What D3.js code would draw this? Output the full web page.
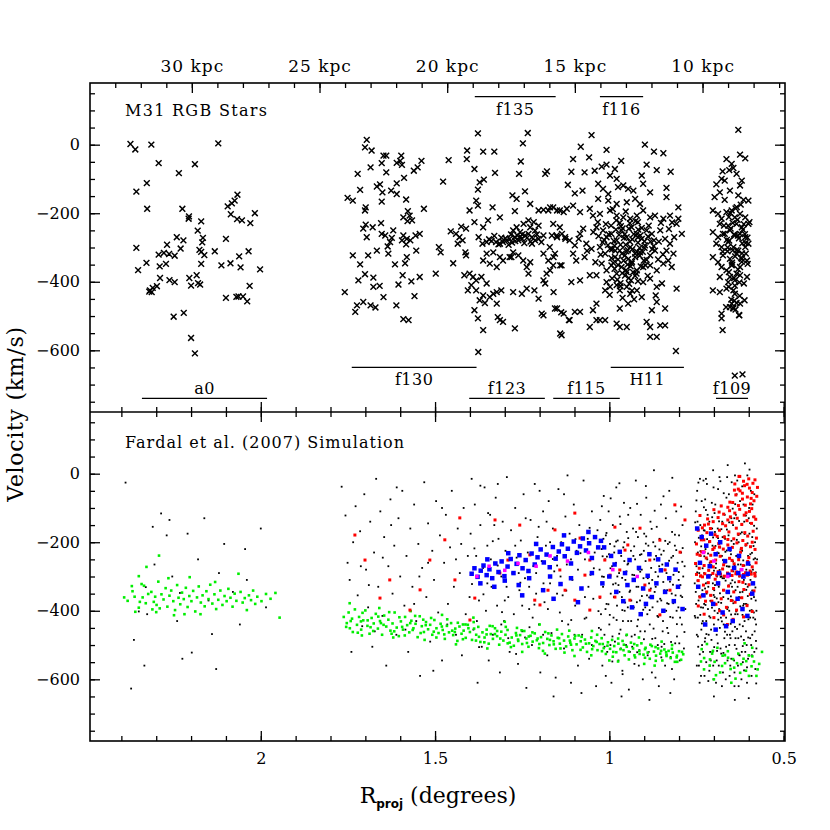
<!DOCTYPE html>
<html>
<head>
<meta charset="utf-8">
<script src="https://cdn.jsdelivr.net/npm/d3@7"></script>
<style>
  body { margin: 0; background: #fff; }
  text { font-family: "DejaVu Serif", serif; fill: #000; }
</style>
</head>
<body>
<div id="chart"></div>
<script>
// ---- M31 RGB stars, [R_proj (deg), velocity (km/s)] ----
var starsA0 = [[2.374,2],[2.360,-14],[2.314,0],[2.122,4],[2.293,-54],[2.189,-57],[2.235,-83],[2.327,-112],[2.357,-137],[2.326,-187],
  [2.225,-187],[2.206,-209],[2.207,-216],[2.171,-224],[2.181,-251],[2.166,-272],[2.168,-285],[2.241,-270],[2.222,-279],[2.269,-292],
  [2.357,-301],[2.230,-303],[2.176,-307],[2.171,-313],[2.162,-322],[2.293,-321],[2.278,-316],[2.263,-319],[2.247,-324],[2.132,-311],
  [2.100,-275],[2.095,-180],[2.083,-171],[2.075,-163],[2.067,-146],[2.086,-203],[2.068,-217],[2.054,-221],[2.030,-229],[2.017,-200],
  [2.035,-311],[2.062,-326],[2.058,-358],[2.087,-346],[2.113,-352],[2.002,-364],[2.171,-348],[2.328,-345],[2.352,-366],[2.290,-355],
  [2.272,-348],[2.289,-389],[2.262,-395],[2.247,-401],[2.205,-389],[2.200,-411],[2.184,-381],[2.180,-404],[2.174,-408],[2.298,-413],
  [2.310,-418],[2.318,-425],[2.313,-430],[2.320,-429],[2.032,-412],[2.100,-447],[2.070,-444],[2.064,-443],[2.051,-443],[2.039,-457],
  [2.250,-502],[2.221,-491],[2.200,-564],[2.189,-609]];

var starsF130 = [[1.696,14],[1.701,-8],[1.682,-17],[1.648,-32],[1.640,-32],[1.597,-32],[1.600,-47],[1.610,-53],[1.595,-59],[1.653,-54],
  [1.685,-66],[1.640,-81],[1.561,-76],[1.550,-66],[1.539,-47],[1.589,-97],[1.610,-113],[1.722,-85],[1.715,-132],[1.667,-122],
  [1.658,-116],[1.651,-139],[1.626,-134],[1.610,-144],[1.583,-160],[1.751,-155],[1.736,-163],[1.653,-166],[1.699,-183],[1.701,-192],
  [1.532,-187],[1.578,-194],[1.591,-212],[1.573,-207],[1.566,-221],[1.579,-223],[1.699,-233],[1.706,-245],[1.679,-241],[1.655,-229],
  [1.653,-260],[1.643,-265],[1.696,-270],[1.620,-250],[1.624,-272],[1.629,-284],[1.591,-265],[1.581,-275],[1.571,-279],[1.595,-279],
  [1.583,-291],[1.556,-265],[1.544,-260],[1.636,-297],[1.634,-318],[1.667,-309],[1.692,-323],[1.736,-323],[1.715,-349],[1.581,-328],
  [1.586,-346],[1.615,-349],[1.554,-309],[1.701,-378],[1.720,-396],[1.677,-388],[1.593,-381],[1.568,-399],[1.544,-386],[1.677,-415],
  [1.659,-412],[1.759,-430],[1.648,-445],[1.605,-408],[1.559,-442],[1.724,-469],[1.729,-488],[1.706,-459],[1.685,-469],[1.671,-475],
  [1.611,-469],[1.591,-509],[1.576,-512]];

var starsMid = [[1.489,-299],[1.484,-314],[1.498,-376],[1.448,-346],[1.455,-253],[1.440,-260],[1.430,-270],[1.421,-279],[1.435,-289],
  [1.413,-314],[1.411,-323],[1.425,-239],[1.411,-245],[1.401,-192],[1.477,-108],[1.461,-45],[1.408,-17],[1.409,-42],[1.377,33],
  [1.362,-20],[1.330,-20],[1.387,-71],[1.328,-82],[1.360,-102],[1.372,-110],[1.377,-131],[1.382,-163],[1.377,-178],[1.335,-183],
  [1.314,-212],[1.387,-226],[1.362,-241],[1.348,-221],
  [1.375,-270],[1.352,-284],[1.338,-281],[1.325,-284],[1.314,-289],[1.305,-284],[1.295,-279],[1.286,-275],[1.271,-270],[1.261,-279],
  [1.251,-275],[1.242,-265],[1.232,-260],[1.222,-270],[1.213,-279],[1.203,-275],[1.189,-265],[1.276,-250],[1.266,-241],[1.256,-255],
  [1.246,-231],[1.232,-221],[1.227,-241],[1.217,-226],[1.203,-236],[1.170,-183],[1.150,-192],[1.131,-197],[1.175,-192],[1.189,-190],
  [1.203,-192],[1.165,-265],[1.150,-270],[1.136,-260],[1.126,-275],[1.278,-148],[1.266,-158],[1.242,-136],[1.271,-194],[1.227,-173],
  [1.352,-318],[1.333,-314],[1.314,-328],[1.362,-338],[1.343,-347],[1.323,-357],[1.305,-338],[1.286,-328],[1.276,-314],[1.281,-328],
  [1.261,-323],[1.247,-338],[1.237,-357],[1.227,-343],[1.232,-376],[1.189,-318],[1.175,-338],[1.160,-328],[1.141,-352],[1.170,-367],
  [1.180,-376],[1.189,-396],[1.416,-381],[1.401,-376],[1.391,-386],[1.382,-396],[1.367,-386],[1.352,-405],[1.396,-410],[1.406,-425],
  [1.382,-425],[1.362,-440],[1.372,-454],[1.357,-462],[1.333,-435],[1.323,-430],[1.310,-425],[1.343,-445],[1.387,-483],[1.377,-507],
  [1.362,-541],[1.323,-464],[1.320,-503],[1.314,-512],[1.305,-517],[1.271,-536],[1.276,-430],[1.251,-435],[1.237,-420],[1.215,-425],
  [1.203,-449],[1.184,-405],[1.160,-430],[1.194,-493],[1.189,-498],[1.141,-551],[1.150,-478],[1.131,-493],[1.116,-512],[1.234,34],
  [1.248,4],[1.254,-49],[1.259,-85],[1.179,-78],[1.184,-85],[1.376,-605],
  [1.345,-276],[1.318,-291],[1.298,-273],[1.279,-286],[1.264,-265],[1.244,-287],[1.226,-283],[1.208,-262],[1.195,-284],[1.282,-262],
  [1.255,-268],[1.236,-272],[1.310,-271],[1.289,-292],[1.270,-281],[1.250,-262],[1.222,-289],[1.213,-251],[1.330,-266],[1.364,-289]];

var starsH11 = [[1.051,28],[1.082,-6],[1.008,-15],[0.898,0],[0.872,-20],[0.845,-25],[1.104,-42],[1.058,-37],[0.966,-47],[1.109,-79],
  [1.071,-81],[1.042,-76],[1.022,-64],[1.008,-58],[0.984,-71],[0.893,-58],[0.864,-74],[0.824,-79],[0.998,-90],[0.979,-100],[0.907,-90],
  [1.119,-117],[1.099,-142],[1.077,-134],[1.032,-114],[1.018,-129],[1.003,-144],[0.975,-124],[0.960,-119],[0.946,-129],[0.931,-134],
  [0.903,-114],[0.883,-139],[0.836,-126],[0.836,-153],[1.032,-158],[1.003,-163],[0.979,-173],[0.950,-168],[0.926,-158],[0.912,-173],
  [1.161,-183],[1.142,-192],[1.122,-187],[1.104,-178],[1.084,-197],[1.056,-187],[1.047,-207],[1.027,-202],[0.998,-192],[0.979,-207],
  [0.960,-212],[0.940,-216],[0.921,-207],[0.903,-192],[0.883,-212],[0.869,-207],[0.845,-216],[0.826,-207],[0.802,-183],[0.802,-216],
  [1.161,-231],[1.142,-241],[1.151,-265],[1.127,-270],[1.114,-279],[1.099,-294],[1.084,-260],[1.075,-245],[1.171,-299],[1.156,-318],
  [1.161,-352],[1.137,-352],[1.104,-318],[1.095,-338],[1.071,-328],[1.066,-289],[1.051,-304],[1.037,-241],[1.018,-250],[1.008,-270],
  [0.994,-260],[0.979,-279],[0.965,-250],[0.950,-270],[0.936,-241],[0.921,-260],[0.907,-275],[0.893,-250],[0.878,-260],[1.027,-299],
  [1.012,-318],[0.998,-304],[0.984,-328],[0.970,-309],[0.955,-323],[0.940,-299],[0.926,-328],[0.912,-314],[0.898,-294],[0.883,-323],
  [0.869,-309],[1.022,-347],[1.008,-367],[0.994,-352],[0.979,-376],[0.965,-357],[0.950,-372],[0.936,-347],[0.921,-367],[0.903,-357],
  [0.883,-352],[0.864,-367],[0.845,-347],[0.854,-250],[0.840,-275],[0.826,-289],[0.836,-309],[0.816,-318],[0.831,-338],[0.821,-357],
  [0.820,-227],[0.807,-231],[0.792,-260],[1.037,-381],[1.008,-401],[0.998,-415],[0.979,-410],[0.970,-425],[0.950,-415],[0.940,-435],
  [0.921,-425],[1.109,-401],[1.084,-396],[1.056,-381],[0.903,-401],[0.883,-391],[0.864,-415],[0.849,-405],[1.156,-478],[1.138,-489],
  [1.114,-512],[1.099,-488],[1.084,-488],[1.037,-464],[1.047,-483],[1.056,-532],[1.037,-512],[1.027,-512],[1.012,-512],[0.979,-522],
  [0.970,-532],[0.950,-532],[0.970,-478],[0.946,-464],[0.893,-517],[0.883,-532],[0.883,-561],[0.864,-561],[0.854,-527],[0.840,-527],
  [0.878,-483],[0.864,-459],[0.840,-478],[0.807,-420],[1.137,-556],[0.809,-602],
  [0.995,-236],[0.962,-244],[0.941,-229],[0.918,-286],[0.987,-281],[0.953,-292],[0.930,-261],[0.972,-263],[0.947,-308],[0.913,-301],
  [0.994,-331],[0.959,-338],[0.935,-342],[0.901,-338],[0.977,-394],[0.944,-389],[0.918,-398],[0.968,-404],[0.932,-372],[0.985,-362],
  [1.015,-278],[1.004,-293],[0.926,-318],[0.958,-272],[0.981,-248],[0.907,-243],[0.889,-268],[0.899,-282],[0.964,-318],[0.948,-350],
  [0.910,-355],[0.992,-390],[0.955,-382],[0.938,-396],[0.970,-228],[0.925,-223],[1.010,-232],[0.983,-309],[0.941,-283],[0.913,-324],
  [0.877,-305],[0.893,-336],[0.962,-447],[0.929,-451],[0.999,-438],[0.975,-351],[0.952,-366],[0.922,-376],[0.890,-383],[1.025,-321],
  [1.040,-343],[1.031,-267],[0.872,-279],[0.860,-335],[0.934,-305],[0.968,-292],[0.989,-345],[0.946,-334],[0.918,-270],[0.904,-313],
  [1.002,-262],[0.985,-295],[0.967,-238],[0.951,-311],[0.934,-276],[0.917,-248],[0.899,-301],[0.882,-283],[0.956,-262],[0.939,-355],
  [0.921,-312],[0.975,-335],[0.992,-305],[0.944,-245],[0.911,-265],[0.926,-383],[0.963,-375],[0.896,-352],[0.980,-221],[0.943,-406],
  [1.019,-285],[1.033,-226],[1.046,-255],[1.064,-310],[1.088,-275],[0.873,-296],[0.858,-283],[0.846,-320],[0.829,-246],[0.814,-270],
  [0.990,-188],[0.953,-195],[0.918,-226],[0.887,-236],[0.968,-413],[0.935,-426],[0.907,-445],[1.012,-425],[0.867,-440],[0.852,-228]];

var starsF109 = [[0.630,43],[0.625,-29],[0.610,-40],[0.664,-42],[0.649,-56],[0.644,-68],[0.656,-74],[0.675,-78],[0.678,-100],[0.693,-116],
  [0.669,-105],[0.635,-85],[0.620,-105],[0.625,-119],[0.683,-139],[0.698,-153],[0.654,-134],[0.630,-148],[0.615,-161],[0.601,-163],
  [0.669,-161],[0.703,-192],[0.688,-202],[0.678,-216],[0.664,-197],[0.649,-192],[0.640,-212],[0.625,-202],[0.610,-212],[0.601,-231],
  [0.683,-231],[0.659,-236],[0.635,-231],[0.620,-241],[0.703,-255],[0.688,-270],[0.674,-260],[0.654,-250],[0.640,-265],[0.625,-260],
  [0.610,-270],[0.601,-289],[0.693,-289],[0.678,-299],[0.659,-284],[0.644,-299],[0.630,-309],[0.610,-299],[0.703,-328],[0.688,-343],
  [0.674,-323],[0.654,-333],[0.635,-318],[0.620,-333],[0.605,-338],[0.678,-357],[0.664,-367],[0.649,-352],[0.635,-376],[0.625,-357],
  [0.654,-386],[0.683,-386],[0.640,-396],[0.625,-381],[0.605,-386],[0.703,-425],[0.683,-430],[0.664,-420],[0.644,-425],[0.640,-435],
  [0.659,-401],[0.654,-474],[0.644,-478],[0.649,-464],[0.635,-462],[0.625,-464],[0.627,-498],[0.678,-493],[0.678,-507],[0.675,-541],
  [0.640,-674],[0.618,-670],
  [0.652,-245],[0.628,-273],[0.617,-248],[0.642,-262],[0.609,-287],[0.635,-308],[0.661,-311],[0.622,-330],[0.648,-344],[0.603,-348],
  [0.631,-364],[0.657,-372],[0.614,-405],[0.640,-411],[0.626,-441],[0.650,-452],[0.612,-454],[0.638,-186],[0.623,-175],[0.657,-211],
  [0.598,-226],[0.671,-236],[0.646,-228],[0.632,-219],[0.611,-261],[0.656,-280],[0.619,-317],[0.642,-389],[0.665,-474],[0.628,-497],
  [0.638,-481],[0.645,-476],
  [0.6605,-300],[0.6391,-326],[0.6187,-288],[0.6523,-200],[0.6312,-265],[0.6472,-350],[0.6268,-402],[0.6083,-318],[0.6688,-260],
  [0.6345,-182],[0.6141,-232],[0.6573,-415],[0.6413,-455],[0.6201,-342],[0.6748,-312],[0.6037,-271],[0.6629,-278],[0.6459,-308]];

// ---- Fardal et al. (2007) simulation particles ----
var simBlack = [[2.388,-26],[2.372,-627],[2.364,-485],[2.350,-402],[2.334,-560],[2.326,-410],[2.310,-155],[2.286,-116],[2.262,-135],
  [2.254,-300],[2.240,-430],[2.225,-540],[2.210,-175],[2.198,-522],[2.180,-250],[2.162,-130],[2.150,-370],[2.140,-468],[2.120,-290],
  [2.105,-205],[2.080,-345],[2.060,-440],[2.040,-310],[2.000,-160],[1.985,-390],[2.270,-180],[2.232,-348],[2.305,-265],[2.330,-331],
  [2.045,-220],[2.128,-570],
  [1.768,-38],[1.757,-122],[1.751,-260],[1.745,-310],[1.740,-520],[1.735,-200],[1.728,-95],[1.722,-355],[1.715,-168],[1.709,-445],
  [1.703,-60],[1.698,-280],[1.692,-390],[1.686,-140],[1.680,-505],[1.675,-230],[1.669,-15],[1.663,-330],[1.657,-110],[1.651,-415],
  [1.646,-185],[1.640,-560],[1.634,-270],[1.628,-75],[1.622,-350],[1.617,-210],[1.611,-470],[1.605,-130],[1.600,-300],[1.594,-50],
  [1.588,-385],[1.582,-240],[1.577,-520],[1.571,-160],[1.565,-330],[1.560,-90],[1.554,-430],[1.548,-205],[1.543,-590],[1.537,-275],
  [1.531,-25],[1.525,-360],[1.520,-145],[1.514,-490],[1.508,-225],[1.503,-310],[1.497,-80],[1.491,-405],[1.486,-180],[1.480,-545],
  [1.474,-260],[1.469,-120],[1.463,-380],[1.457,-215],[1.452,-50],[1.446,-330],[1.440,-470],[1.435,-160],[1.429,-290],[1.423,-530],
  [1.418,-100],[1.412,-410],[1.406,-240],[1.401,-360],[1.395,-15],[1.713,-270],[1.673,-460],[1.626,-150],[1.585,-455],[1.545,-300],
  [1.505,-575],[1.465,-440],[1.425,-205],[1.690,-325],[1.650,-245],[1.610,-40],[1.560,-380],[1.520,-260],[1.480,-100],[1.440,-250],
  [1.398,-175],[1.394,-322],[1.390,-455],[1.386,-90],[1.382,-240],[1.378,-610],[1.374,-370],[1.370,-150],[1.366,-505],[1.362,-275],
  [1.358,-40],[1.354,-400],[1.350,-210],[1.346,-545],[1.342,-120],[1.338,-330],[1.334,-470],[1.330,-260],[1.326,-70],[1.322,-385],
  [1.318,-190],[1.314,-580],[1.310,-300],[1.306,-140],[1.302,-430],[1.298,-225],[1.294,-10],[1.290,-360],[1.286,-520],[1.282,-165],
  [1.278,-290],[1.274,-410],[1.270,-100],[1.266,-245],[1.262,-555],[1.258,-340],[1.254,-195],[1.250,-460],[1.246,-60],[1.242,-305],
  [1.238,-625],[1.234,-230],[1.230,-395],[1.226,-135],[1.222,-500],[1.218,-270],[1.214,-30],[1.210,-350],[1.206,-185],[1.202,-440],
  [1.198,-580],[1.194,-255],[1.190,-110],[1.186,-375],[1.182,-210],[1.178,-530],[1.174,-80],[1.170,-320],[1.166,-465],[1.162,-160],
  [1.158,-285],[1.154,-595],[1.150,-240],[1.146,-45],[1.142,-405],[1.138,-200],[1.134,-355],[1.130,-510],[1.126,-125],[1.122,-265],
  [1.118,-440],[1.114,-175],[1.110,-610],[1.106,-310],[1.102,-90],[1.098,-385],[1.094,-225],[1.090,-560],[1.086,-150],[1.082,-335],
  [1.078,-470],[1.074,-20],[1.070,-250],[1.066,-420],[1.062,-190],[1.058,-540],[1.054,-295],[1.050,-110],[1.046,-365],[1.042,-230],
  [1.038,-620],[1.034,-165],[1.030,-450],[1.370,-35],[1.330,-150],[1.290,-480],[1.250,-385],[1.210,-290],[1.170,-200],[1.130,-60],
  [1.090,-280],[1.050,-500],[1.350,-320],[1.310,-440],[1.270,-210],[1.230,-330],[1.190,-470],[1.150,-350],[1.110,-250],[1.070,-360],
  [1.380,-430],[1.340,-250],[1.300,-370],[1.260,-290],[1.220,-420],[1.180,-140],[1.140,-300],[1.100,-470],[1.060,-330],[1.160,-650],
  [1.080,-640],[1.320,-30],[1.240,-130],[1.120,-5],[1.200,-50],
  [1.3871,-218],[1.3612,-352],[1.3344,-197],[1.3079,-404],[1.2816,-247],[1.2553,-318],[1.2291,-448],[1.2027,-155],[1.1763,-395],
  [1.1498,-268],[1.1235,-341],[1.0972,-191],[1.0708,-423],[1.0445,-276],[1.3737,-506],[1.3203,-268],[1.2675,-526],[1.2149,-382],
  [1.1621,-249],[1.1093,-427],[1.0565,-158],[1.3478,-115],[1.2948,-330],[1.2417,-478],[1.1889,-320],[1.1357,-430],[1.0829,-232],[1.0312,-401],
  [1.028,-280],[1.026,-135],[1.024,-410],[1.022,-220],[1.020,-560],[1.018,-330],[1.016,-65],[1.014,-470],[1.012,-250],[1.010,-180],
  [1.008,-380],[1.006,-520],[1.004,-300],[1.002,-110],[1.000,-440],[0.998,-205],[0.996,-350],[0.994,-610],[0.992,-270],[0.990,-150],
  [0.988,-420],[0.986,-230],[0.984,-490],[0.982,-320],[0.980,-40],[0.978,-385],[0.976,-195],[0.974,-545],[0.972,-290],[0.970,-125],
  [0.968,-455],[0.966,-240],[0.964,-360],[0.962,-585],[0.960,-215],[0.958,-85],[0.956,-400],[0.954,-310],[0.952,-500],[0.950,-170],
  [0.948,-265],[0.946,-430],[0.944,-630],[0.942,-345],[0.940,-100],[0.938,-225],[0.936,-475],[0.934,-295],[0.932,-160],[0.930,-390],
  [0.928,-555],[0.926,-250],[0.924,-20],[0.922,-330],[0.920,-445],[0.918,-185],[0.916,-280],[0.914,-515],[0.912,-370],[0.910,-120],
  [0.908,-235],[0.906,-410],[0.904,-600],[0.902,-305],[0.900,-175],[0.898,-460],[0.896,-255],[0.894,-70],[0.892,-355],[0.890,-530],
  [0.888,-210],[0.886,-320],[0.884,-440],[0.882,-140],[0.880,-275],[0.878,-580],[0.876,-390],[0.874,-200],[0.872,10],[0.870,-345],
  [0.868,-480],[0.866,-240],[0.864,-155],[0.862,-415],[0.860,-300],[0.858,-620],[0.856,-190],[0.854,-365],[0.852,-90],[0.850,-505],
  [0.848,-265],[0.846,-430],[0.844,-225],[0.842,-340],[0.840,-560],[0.838,-130],[0.836,-290],[0.834,-450],[0.832,-205],[0.830,-380],
  [0.828,-50],[0.826,-315],[0.824,-535],[0.822,-245],[0.820,-170],[0.818,-420],[0.816,-295],[0.814,-600],[0.812,-210],[0.810,-355],
  [0.808,-110],[0.806,-475],[0.804,-260],[0.802,-390],[0.800,-180],[0.798,-545],[0.796,-325],[0.794,-230],[0.792,-440],[0.790,-150],
  [0.788,-300],[0.786,-510],[0.784,-270],[0.782,-395],
  [1.021,-300],[1.011,-395],[1.001,-235],[0.991,-475],[0.981,-260],[0.971,-345],[0.961,-430],[0.951,-285],[0.941,-520],[0.931,-240],
  [0.921,-375],[0.911,-460],[0.901,-225],[0.891,-410],[0.881,-335],[0.871,-250],[0.861,-500],[0.851,-370],[0.841,-280],[0.831,-465],
  [0.821,-350],[0.811,-495],[0.801,-310],[0.791,-360],[1.017,-190],[0.997,-500],[0.977,-300],[0.957,-200],[0.937,-370],[0.917,-330],
  [0.897,-390],[0.877,-310],[0.857,-270],[0.837,-400],[0.817,-240],[0.797,-420],[0.927,-470],[0.907,-280],[0.887,-520],[0.867,-330],
  [0.847,-460],[0.827,-200],[0.807,-400],[0.987,-360],[0.967,-510],[0.947,-390],[0.965,-650],[0.885,-660],[0.825,-640],
  [1.0271,-362],[1.0193,-241],[1.0137,-505],[1.0082,-173],[1.0026,-381],[0.9968,-276],[0.9914,-548],[0.9853,-212],[0.9791,-427],
  [0.9738,-325],[0.9681,-147],[0.9627,-398],[0.9569,-255],[0.9513,-472],[0.9458,-188],[0.9402,-341],[0.9344,-505],[0.9289,-296],
  [0.9233,-170],[0.9177,-426],[0.9121,-237],[0.9066,-357],[0.9008,-483],[0.8953,-204],[0.8897,-305],[0.8842,-398],[0.8786,-161],
  [0.8731,-452],[0.8675,-287],[0.8619,-373],[0.8563,-221],[0.8508,-536],[0.8452,-316],[0.8396,-196],[0.8341,-378],[0.8285,-254],
  [0.8229,-491],[0.8174,-324],[0.8118,-178],[0.8062,-439],[0.8007,-287],[0.7951,-356],[0.7896,-217],[0.7845,-462],
  [1.0244,-455],[1.0158,-301],[1.0069,-242],[0.9987,-412],[0.9892,-323],[0.9806,-198],[0.9717,-467],[0.9632,-304],[0.9546,-376],
  [0.9459,-262],[0.9373,-430],[0.9287,-212],[0.9201,-521],[0.9114,-286],[0.9028,-397],[0.8942,-183],[0.8856,-361],[0.8769,-482],
  [0.8683,-212],[0.8597,-418],[0.8511,-236],[0.8424,-497],[0.8338,-340],[0.8252,-418],[0.8166,-378],[0.8079,-223],[0.7993,-495],[0.7907,-257],
  [1.0215,-95],[0.9962,-72],[0.9711,-28],[0.9458,-120],[0.9205,-88],[0.8952,-36],[0.8699,-108],[0.8446,-66],[0.8193,-12],[0.7940,-96],
  [1.0102,-590],[0.9625,-575],[0.9154,-560],[0.8677,-595],[0.8203,-570],
  [0.755,-320],[0.752,-110],[0.749,-470],[0.746,-230],[0.743,-560],[0.740,-15],[0.737,-390],[0.734,-180],[0.731,-520],[0.728,-290],
  [0.725,-75],[0.722,-430],[0.719,-250],[0.716,-605],[0.713,-140],[0.710,-355],[0.707,-485],[0.704,-210],[0.701,-40],[0.698,-400],
  [0.695,-275],[0.692,-545],[0.689,-160],[0.686,-330],[0.683,-450],[0.680,-95],[0.677,-240],[0.674,-580],[0.671,-305],[0.668,-190],
  [0.665,-420],[0.662,-10],[0.659,-365],[0.656,-500],[0.653,-225],[0.650,-130],[0.647,-460],[0.644,-285],[0.641,-620],[0.638,-340],
  [0.635,-60],[0.632,-410],[0.629,-200],[0.626,-530],[0.623,-265],[0.620,-150],[0.617,-445],[0.614,-310],[0.611,30],[0.608,-380],
  [0.605,-565],[0.602,-240],[0.599,-100],[0.596,-480],[0.593,-350],[0.590,-185],[0.587,-420],[0.584,-60],[0.581,-300],[0.578,-510],
  [0.754,-200],[0.751,-380],[0.748,-50],[0.745,-505],[0.742,-290],[0.739,-150],[0.736,-455],[0.733,-340],[0.730,-20],[0.727,-590],
  [0.724,-220],[0.721,-350],[0.718,-120],[0.715,-470],[0.712,-260],[0.709,-545],[0.706,-85],[0.703,-320],[0.700,-440],[0.697,-170],
  [0.694,-610],[0.691,-300],[0.688,-45],[0.685,-395],[0.682,-215],[0.679,-525],[0.676,-140],[0.673,-360],[0.670,-480],[0.667,-255],
  [0.664,-70],[0.661,-440],[0.658,-180],[0.655,-590],[0.652,-320],[0.649,-25],[0.646,-370],[0.643,-205],[0.640,-500],[0.637,-120],
  [0.634,-290],[0.631,-560],[0.628,-360],[0.625,-80],[0.622,-475],[0.619,-225],[0.616,-385],[0.613,-140],[0.610,-520],[0.607,-280],
  [0.604,-5],[0.601,-425],[0.598,-175],[0.595,-310],[0.592,-590],[0.589,-90],[0.586,-250],[0.583,-460],[0.580,-370],[0.577,-160],
  [0.753,-420],[0.750,-270],[0.747,-140],[0.744,-370],[0.741,-610],[0.738,-240],[0.735,-80],[0.732,-430],[0.729,-165],[0.726,-490],
  [0.723,-320],[0.720,-30],[0.717,-395],[0.714,-200],[0.711,-520],[0.708,-295],[0.705,-160],[0.702,-560],[0.699,-340],[0.696,-90],
  [0.693,-455],[0.690,-230],[0.687,-375],[0.684,-10],[0.681,-510],[0.678,-300],[0.675,-185],[0.672,-440],[0.669,-120],[0.666,-600],
  [0.663,-270],[0.660,-390],[0.657,-60],[0.654,-470],[0.651,-235],[0.648,-330],[0.645,-150],[0.642,-545],[0.639,-410],[0.636,-240],
  [0.633,-20],[0.630,-480],[0.627,-300],[0.624,-175],[0.621,-600],[0.618,-345],[0.615,-90],[0.612,-430],[0.609,-210],[0.606,-500],
  [0.603,-330],[0.600,-130],[0.597,-400],[0.594,-50],[0.591,-530],[0.588,-280],[0.585,-360],[0.582,-200],[0.579,-440],[0.576,-250],
  [0.752,-345],[0.746,-420],[0.740,-300],[0.734,-500],[0.728,-380],[0.722,-550],[0.716,-330],[0.710,-420],[0.704,-520],[0.698,-360],
  [0.692,-470],[0.686,-560],[0.680,-420],[0.674,-340],[0.668,-530],[0.662,-470],[0.656,-400],[0.650,-540],[0.644,-430],[0.638,-480],
  [0.632,-330],[0.626,-440],[0.620,-520],[0.614,-380],[0.608,-460],[0.602,-540],[0.596,-420],[0.590,-470],[0.584,-520],[0.578,-400],
  [0.749,-560],[0.737,-590],[0.725,-480],[0.713,-575],[0.701,-600],[0.689,-495],[0.677,-620],[0.665,-505],[0.653,-560],[0.641,-580],
  [0.629,-620],[0.617,-550],[0.605,-610],[0.593,-500],[0.581,-570],[0.700,-650],[0.640,-660],[0.600,-655],
  [0.7512,-263],[0.7433,-187],[0.7391,-412],[0.7324,-276],[0.7287,-98],[0.7215,-468],[0.7168,-233],[0.7102,-371],[0.7049,-127],
  [0.6991,-506],[0.6937,-262],[0.6881,-188],[0.6826,-349],[0.6772,-431],[0.6718,-57],[0.6664,-312],[0.6609,-545],[0.6553,-271],
  [0.6497,-196],[0.6442,-378],[0.6389,-89],[0.6335,-453],[0.6281,-247],[0.6226,-362],[0.6172,-503],[0.6118,-176],[0.6063,-291],
  [0.6009,-418],[0.5955,-235],[0.5901,-341],[0.5847,-152],[0.5793,-488],
  [0.7548,-415],[0.7469,-312],[0.7405,-527],[0.7353,-354],[0.7276,-241],[0.7229,-106],[0.7144,-282],[0.7081,-455],[0.7023,-186],
  [0.6968,-325],[0.6909,-517],[0.6852,-139],[0.6791,-377],[0.6739,-252],[0.6683,-461],[0.6627,-163],[0.6571,-326],[0.6518,-438],
  [0.6461,-102],[0.6407,-267],[0.6352,-511],[0.6298,-179],[0.6243,-387],[0.6189,-303],[0.6134,-574],[0.6081,-122],[0.6027,-357],
  [0.5972,-266],[0.5918,-398],[0.5864,-211],[0.5809,-332],[0.5786,-612],
  [0.7537,-142],[0.7458,-475],[0.7387,-226],[0.7311,-391],[0.7253,-335],[0.7195,-191],[0.7133,-416],[0.7066,-268],[0.7007,-354],
  [0.6955,-211],[0.6893,-407],[0.6837,-281],[0.6785,-162],[0.6727,-523],[0.6671,-228],[0.6615,-395],[0.6563,-142],[0.6506,-411],
  [0.6451,-256],[0.6396,-317],[0.6342,-193],[0.6287,-528],[0.6233,-221],[0.6179,-412],[0.6125,-268],[0.6071,-339],[0.6016,-478],
  [0.5962,-144],[0.5908,-231],[0.5853,-405],[0.5799,-288],
  [0.7501,-78],[0.7422,-358],[0.7345,-437],[0.7266,-166],[0.7183,-318],[0.7117,-560],[0.7055,-391],[0.6981,-115],[0.6918,-364],
  [0.6863,-232],[0.6808,-301],[0.6744,-408],[0.6695,-183],[0.6637,-347],[0.6582,-271],[0.6523,-480],[0.6472,-311],[0.6415,-130],
  [0.6361,-402],[0.6306,-265],[0.6252,-346],[0.6198,-171],[0.6143,-485],[0.6089,-322],[0.6035,-203],[0.5981,-531],[0.5926,-365],
  [0.5872,-126],[0.5818,-247],
  [0.7479,-288],[0.7364,-212],[0.7241,-383],[0.7125,-197],[0.6998,-283],[0.6874,-426],[0.6752,-305],[0.6631,-224],[0.6512,-358],
  [0.6395,-447],[0.6277,-138],[0.6158,-253],[0.6039,-382],[0.5922,-287],[0.5817,-425],[0.7445,-26],[0.7229,-15],[0.7022,10],
  [0.6814,-22],[0.6604,25],[0.6395,-5],[0.6188,-37],[0.5978,12]];

var simGreen = [[2.392,-361],[2.382,-371],[2.370,-328],[2.368,-343],[2.362,-359],[2.360,-403],[2.350,-299],[2.347,-374],[2.342,-322],
  [2.339,-361],[2.335,-327],[2.330,-378],[2.328,-272],[2.323,-351],[2.314,-345],[2.311,-396],[2.307,-374],[2.303,-359],[2.299,-383],
  [2.294,-315],[2.292,-239],[2.290,-393],[2.285,-352],[2.279,-367],[2.273,-334],[2.268,-388],[2.262,-356],[2.257,-341],[2.251,-372],
  [2.246,-398],[2.240,-325],[2.236,-362],[2.231,-381],[2.226,-347],[2.221,-366],[2.215,-333],[2.210,-389],[2.205,-357],[2.199,-372],
  [2.194,-342],[2.188,-402],[2.183,-361],[2.178,-329],[2.172,-376],[2.167,-355],[2.161,-387],[2.156,-343],[2.150,-366],[2.145,-324],
  [2.139,-379],[2.133,-352],[2.128,-395],[2.122,-368],[2.116,-341],[2.110,-383],[2.104,-357],[2.098,-372],[2.093,-336],[2.087,-362],
  [2.081,-388],[2.075,-350],[2.070,-371],[2.064,-292],[2.058,-345],[2.052,-376],[2.046,-363],[2.040,-398],[2.034,-355],[2.028,-369],
  [2.022,-341],[2.016,-380],[2.010,-359],[1.998,-372],[1.985,-351],[1.972,-365],[1.958,-348],[1.946,-420],[2.265,-305],[2.219,-410],
  [2.173,-410],[2.131,-316],[2.249,-413],[2.204,-302],[2.300,-404],[2.350,-391],
  [1.762,-418],[1.755,-447],[1.748,-405],[1.742,-430],[1.736,-462],[1.730,-396],[1.724,-441],[1.718,-418],[1.712,-455],[1.706,-428],
  [1.700,-399],[1.694,-444],[1.688,-467],[1.682,-421],[1.676,-437],[1.670,-409],[1.664,-452],[1.658,-430],[1.652,-470],[1.646,-414],
  [1.640,-446],[1.634,-426],[1.628,-458],[1.622,-437],[1.616,-405],[1.610,-449],[1.604,-474],[1.598,-431],[1.592,-455],[1.586,-418],
  [1.580,-442],[1.574,-463],[1.568,-429],[1.562,-451],[1.556,-438],[1.550,-477],[1.544,-416],[1.538,-445],[1.532,-462],[1.526,-433],
  [1.520,-454],[1.514,-441],[1.508,-470],[1.502,-427],[1.496,-451],[1.490,-465],[1.484,-438],[1.478,-456],[1.472,-482],[1.466,-444],
  [1.460,-463],[1.454,-436],[1.448,-471],[1.442,-452],[1.436,-488],[1.430,-446],[1.424,-467],[1.418,-458],[1.412,-479],[1.406,-441],
  [1.400,-462],[1.394,-485],[1.388,-452],[1.382,-470],[1.376,-447],[1.370,-491],[1.364,-463],[1.358,-478],[1.352,-455],[1.346,-496],
  [1.340,-468],[1.334,-482],[1.328,-451],[1.322,-474],[1.316,-499],[1.310,-461],[1.304,-487],[1.298,-470],[1.292,-456],[1.286,-493],
  [1.280,-478],[1.274,-502],[1.268,-465],[1.262,-484],[1.256,-471],[1.250,-497],[1.244,-459],[1.238,-481],[1.232,-505],[1.226,-473],
  [1.220,-490],[1.214,-466],[1.208,-486],[1.202,-509],[1.196,-477],[1.190,-494],[1.184,-462],[1.178,-482],[1.172,-500],[1.166,-472],
  [1.160,-489],[1.154,-511],[1.148,-479],[1.142,-496],[1.136,-468],[1.130,-487],[1.124,-504],[1.118,-475],[1.112,-493],[1.106,-515],
  [1.100,-481],[1.094,-498],[1.088,-472],[1.082,-489],[1.076,-507],[1.070,-484],[1.064,-520],[1.058,-495],[1.052,-478],[1.046,-503],
  [1.040,-488],[1.034,-515],[1.028,-497],[1.022,-480],[1.016,-509],[1.010,-526],[1.004,-492],[0.998,-511],[0.992,-485],[0.986,-503],
  [0.980,-521],[0.974,-496],[0.968,-512],[0.962,-488],[0.956,-530],[0.950,-505],[0.944,-519],[0.938,-493],[0.932,-510],[0.926,-536],
  [0.920,-501],[0.914,-517],[0.908,-495],[0.902,-528],[0.896,-508],[0.890,-522],[0.884,-540],[0.878,-503],[0.872,-519],[0.866,-531],
  [0.860,-510],[0.854,-525],[0.848,-545],[0.842,-513],[0.836,-528],[0.830,-517],[0.824,-538],[0.818,-522],[0.812,-549],[0.806,-531],
  [0.800,-518],[0.794,-543],[0.788,-527],
  [1.745,-378],[1.710,-472],[1.660,-392],[1.620,-478],[1.570,-401],[1.530,-485],[1.480,-412],[1.440,-498],[1.390,-420],[1.350,-510],
  [1.300,-432],[1.250,-520],[1.200,-440],[1.150,-455],[1.100,-532],[1.050,-459],[1.000,-545],[0.950,-470],[0.900,-555],[0.850,-490],
  [1.420,-440],[1.335,-445],[1.265,-450],[1.185,-525],[1.115,-458],[1.035,-470],[0.975,-548],[0.915,-478],[0.870,-560],[0.820,-500],
  [1.7533,-436],[1.7382,-423],[1.7217,-464],[1.7081,-406],[1.6934,-428],[1.6775,-459],[1.6629,-417],[1.6477,-441],[1.6316,-404],
  [1.6172,-460],[1.6024,-419],[1.5869,-472],[1.5712,-436],[1.5571,-415],[1.5414,-465],[1.5267,-442],[1.5113,-421],[1.4962,-478],
  [1.4805,-446],[1.4651,-425],[1.4508,-458],[1.4347,-435],[1.4201,-483],[1.4043,-451],[1.3892,-433],[1.3739,-476],[1.3587,-492],
  [1.3431,-444],[1.3283,-468],[1.3129,-481],[1.2971,-447],[1.2824,-506],[1.2667,-472],[1.2518,-457],[1.2364,-494],[1.2207,-463],
  [1.2058,-481],[1.1903,-517],[1.1749,-466],[1.1593,-498],[1.1442,-480],[1.1287,-522],[1.1133,-487],[1.0981,-473],[1.0826,-514],
  [1.0671,-496],[1.0518,-530],[1.0363,-491],[1.0211,-518],[1.0055,-502],[0.9901,-534],[0.9748,-481],[0.9594,-515],[0.9439,-542],
  [0.9285,-497],[0.9131,-526],[0.8977,-512],[0.8822,-499],[0.8668,-546],[0.8514,-517],[0.8359,-532],[0.8206,-511],[0.8051,-549],[0.7913,-520],
  [1.7445,-451],[1.7127,-431],[1.6851,-448],[1.6553,-436],[1.6247,-467],[1.5944,-447],[1.5642,-456],[1.5339,-426],[1.5037,-461],
  [1.4736,-469],[1.4433,-462],[1.4128,-440],[1.3826,-487],[1.3522,-469],[1.3219,-459],[1.2916,-495],[1.2613,-488],[1.2311,-475],
  [1.2007,-497],[1.1704,-485],[1.1402,-510],[1.1099,-499],[1.0795,-476],[1.0493,-512],[1.0189,-497],[0.9886,-520],[0.9583,-499],
  [0.9279,-530],[0.8977,-537],[0.8674,-506],[0.8371,-521],[0.8068,-536],
  [0.735,-512],[0.728,-538],[0.720,-497],[0.712,-560],[0.705,-525],[0.698,-549],[0.690,-508],[0.682,-580],[0.675,-531],[0.668,-553],
  [0.660,-518],[0.652,-570],[0.645,-541],[0.638,-598],[0.630,-525],[0.622,-556],[0.615,-540],[0.608,-575],[0.600,-530],[0.592,-562],
  [0.585,-548],[0.578,-590],[0.570,-555],[0.562,-520],[0.700,-600],[0.650,-610],[0.612,-495],[0.590,-508],
  [0.7283,-571],[0.7112,-542],[0.6941,-588],[0.6766,-561],[0.6593,-537],[0.6418,-566],[0.6247,-581],[0.6072,-547],[0.5898,-533],
  [0.5745,-571],[0.7371,-548],[0.7027,-517],[0.6684,-529],[0.6337,-553],[0.5995,-590]];

var simRed = [[1.701,-252],[1.630,-310],[1.543,-339],[1.472,-193],[1.429,-129],[1.386,-363],[1.314,-290],[1.291,-252],[1.257,-150],
  [1.214,-369],[1.176,-340],[1.142,-281],[1.099,-115],[1.084,-188],[1.056,-252],[1.027,-360],[0.998,-296],[0.984,-156],[0.947,-208],
  [0.912,-159],[0.884,-252],[0.855,-194],[0.826,-340],[0.797,-229],[0.783,-135],[1.730,-179],[1.572,-398],[1.400,-427],[1.199,-383],
  [1.056,-398],[0.941,-369],[0.855,-412],[0.970,-281],[1.099,-369],[1.328,-135],[1.228,-237],[1.156,-164],[0.898,-325],[0.840,-281],
  [0.812,-91],[1.013,-252],[0.955,-223],[0.884,-340],[1.658,-363],[1.515,-252],[1.443,-310],[1.127,-340],[1.070,-296],[0.984,-360],
  [0.612,-35],[0.598,-42],[0.625,-50],[0.590,-55],[0.637,-62],[0.604,-68],[0.618,-74],[0.585,-79],[0.646,-84],[0.630,-45],
  [0.595,-88],[0.610,-92],[0.660,-98],[0.577,-66],
  [0.700,-105],[0.685,-112],[0.672,-118],[0.655,-108],[0.640,-115],[0.626,-104],[0.613,-121],[0.598,-110],[0.585,-126],[0.718,-132],
  [0.702,-140],[0.688,-128],[0.675,-146],[0.660,-135],[0.648,-142],[0.633,-130],[0.620,-148],[0.605,-137],[0.592,-145],[0.580,-133],
  [0.740,-122],[0.727,-150],
  [0.745,-165],[0.733,-158],[0.720,-172],[0.710,-160],[0.697,-178],[0.684,-165],[0.670,-185],[0.657,-170],[0.643,-190],[0.630,-176],
  [0.617,-195],[0.603,-182],[0.590,-200],[0.578,-188],[0.750,-205],[0.736,-193],[0.723,-212],[0.712,-198],[0.699,-216],[0.686,-204],
  [0.673,-220],[0.660,-208],[0.647,-215],[0.634,-202],[0.621,-218],[0.608,-207],[0.595,-213],[0.582,-221],
  [0.748,-235],[0.735,-228],[0.722,-246],[0.709,-238],[0.695,-252],[0.682,-241],[0.668,-258],[0.655,-247],[0.642,-263],[0.629,-251],
  [0.616,-268],[0.603,-256],[0.590,-272],[0.579,-260],[0.742,-276],[0.728,-268],[0.715,-282],[0.702,-272],[0.688,-286],[0.675,-278],
  [0.661,-290],[0.648,-283],[0.635,-287],[0.622,-280],[0.609,-289],[0.596,-284],[0.583,-291],
  [0.750,-294],[0.738,-298],[0.726,-292],[0.714,-297],[0.703,-291],[0.692,-296],[0.681,-293],[0.670,-299],[0.659,-294],[0.648,-297],
  [0.637,-292],[0.626,-298],[0.615,-294],[0.604,-296],[0.593,-293],[0.582,-298],
  [0.745,-312],[0.730,-325],[0.716,-318],[0.701,-335],[0.687,-322],[0.672,-340],[0.658,-328],[0.643,-345],[0.628,-315],[0.614,-338],
  [0.599,-324],[0.585,-342],[0.740,-360],[0.724,-372],[0.709,-355],[0.694,-381],[0.679,-365],[0.664,-390],[0.650,-370],[0.635,-398],
  [0.620,-362],[0.605,-385],[0.590,-402],[0.728,-410],[0.700,-420],[0.672,-412],[0.645,-425],[0.615,-418],
  [0.600,-15],[0.588,-28],[0.615,-22],[0.628,-8],[0.575,-40],[0.640,-30],
  [0.6183,-57],[0.6047,-31],[0.5931,-72],[0.5822,-18],[0.6296,-93],[0.6411,-48],[0.6527,-126],[0.6664,-152],[0.6789,-94],[0.6905,-183],
  [0.7031,-221],[0.7158,-147],[0.7287,-193],[0.7402,-238],[0.7526,-262],[0.5873,-168],[0.5998,-245],[0.6113,-172],[0.6235,-229],
  [0.6357,-159],[0.6478,-253],[0.6599,-192],[0.6721,-266],[0.6842,-214],[0.6963,-308],[0.7085,-257],[0.7206,-345],[0.7327,-301],
  [0.7448,-386],[0.5955,-352],[0.6169,-317],[0.6392,-375],[0.6614,-440],[0.6835,-400],[0.7058,-372],[0.7281,-228],[0.6076,-114],
  [0.6542,-83],[0.5915,-102],[0.6258,-8]];

var simBlue = [[1.395,-292],[1.387,-276],[1.378,-301],[1.369,-283],[1.361,-268],[1.352,-296],[1.344,-279],[1.336,-305],[1.327,-262],
  [1.318,-287],[1.309,-256],[1.301,-299],[1.292,-271],[1.283,-249],[1.275,-290],[1.266,-263],[1.258,-238],[1.249,-276],[1.240,-252],
  [1.232,-284],[1.223,-233],[1.214,-265],[1.206,-244],[1.197,-221],[1.188,-259],[1.180,-236],[1.171,-273],[1.162,-214],[1.154,-248],
  [1.145,-227],[1.136,-206],[1.128,-241],[1.119,-219],[1.110,-262],[1.102,-198],[1.093,-231],[1.084,-212],[1.076,-189],[1.067,-224],
  [1.058,-203],[1.050,-246],[1.041,-185],[1.032,-215],[1.024,-196],
  [1.37,-320],[1.33,-330],[1.30,-312],[1.26,-325],[1.23,-305],[1.19,-340],[1.17,-300],[1.14,-322],[1.11,-305],[1.08,-335],
  [1.05,-290],[1.02,-320],[1.25,-355],[1.16,-365],[1.09,-375],[1.35,-250],[1.29,-232],[1.21,-205],[1.13,-180],[1.06,-170],
  [1.015,-215],[0.995,-240],[0.985,-265],[0.970,-228],[0.955,-290],[0.942,-252],[0.930,-310],[0.915,-275],[0.903,-335],[0.890,-298],
  [0.878,-360],[0.865,-320],[0.852,-282],[0.840,-345],[0.828,-305],[0.815,-372],[0.803,-330],[0.790,-395],[0.980,-345],[0.960,-372],
  [0.935,-390],[0.910,-410],[0.885,-235],[0.860,-250],[0.835,-265],[0.810,-280],[1.000,-300],[0.948,-325],[0.895,-380],[0.845,-400],
  [0.748,-160],[0.735,-185],[0.722,-210],[0.708,-175],[0.695,-235],[0.682,-200],[0.668,-255],[0.655,-220],[0.642,-275],[0.628,-240],
  [0.615,-300],[0.602,-262],[0.588,-320],[0.745,-330],[0.730,-355],[0.716,-300],[0.702,-380],[0.688,-320],[0.675,-405],[0.660,-345],
  [0.646,-430],[0.632,-365],[0.618,-395],[0.604,-415],[0.590,-350],[0.740,-260],[0.712,-270],[0.685,-290],[0.658,-295],[0.630,-290],
  [0.603,-292],[0.725,-440],[0.695,-455],[0.665,-445]];

var simMagenta = [[1.345,-270],[1.300,-282],[1.262,-262],[1.210,-270],[1.170,-240],[1.120,-255],[1.060,-230],[0.990,-280],[0.920,-300],
  [0.700,-255],[0.660,-300],[0.620,-280],[0.730,-230],[1.380,-300]];

// fields observed: name, R_proj start/end (deg), velocity of the bar, label side
var fields = [
  {name: "f135", d0: 1.386, d1: 1.154, v: 140, side: "below"},
  {name: "f116", d0: 1.027, d1: 0.903, v: 140, side: "below"},
  {name: "f130", d0: 1.739, d1: 1.381, v: -650, side: "below"},
  {name: "H11",  d0: 0.996, d1: 0.786, v: -650, side: "below"},
  {name: "a0",   d0: 2.341, d1: 1.982, v: -740, side: "above"},
  {name: "f123", d0: 1.402, d1: 1.185, v: -740, side: "above"},
  {name: "f115", d0: 1.161, d1: 0.970, v: -740, side: "above"},
  {name: "f109", d0: 0.694, d1: 0.602, v: -740, side: "above"}
];

var degMajor = [2, 1.5, 1, 0.5];
var degMinor = d3.range(5, 25).map(function(d){ return d / 10; });
var kpcMajor = [10, 15, 20, 25, 30];
var kpcMinor = d3.range(7, 34);
var velMajor = [-600, -400, -200, 0];
var velMinor = d3.range(-750, 180, 50);
var kpcPerDeg = 13.65;

// ---- layout ----
var width = 830, height = 830;
var left = 90, right = 785;
var top1 = 83, mid = 412, bot2 = 741;

var svg = d3.select("#chart").append("svg")
  .attr("width", width)
  .attr("height", height);

var x = d3.scaleLinear().domain([2.49, 0.496]).range([left, right]);
var xKpc = d3.scaleLinear().domain([2.49 * kpcPerDeg, 0.496 * kpcPerDeg]).range([left, right]);
var yTop = d3.scaleLinear().domain([-780, 180]).range([mid, top1]);
var yBot = d3.scaleLinear().domain([-780, 180]).range([bot2, mid]);

function styleAxis(g) {
  g.select(".domain").remove();
  g.selectAll("line").attr("stroke", "#000").attr("stroke-width", 1.3);
  g.attr("font-family", null).attr("font-size", null);
  g.selectAll("text").style("font-family", "DejaVu Serif, serif").style("font-size", "16px").attr("fill", "#000");
}

function ticks(axisFn, scale, values, size, pos, vertical) {
  var ax = axisFn(scale).tickValues(values).tickSize(-size).tickFormat("");
  var g = svg.append("g").attr("transform", vertical ? "translate(" + pos + ",0)" : "translate(0," + pos + ")").call(ax);
  styleAxis(g);
  return g;
}

// y axes, both panels, left and right
[yTop, yBot].forEach(function(ys) {
  ticks(d3.axisLeft, ys, velMinor, 5, left, true);
  ticks(d3.axisLeft, ys, velMajor, 10, left, true);
  ticks(d3.axisRight, ys, velMinor, 5, right, true);
  ticks(d3.axisRight, ys, velMajor, 10, right, true);
  var lab = svg.append("g").attr("transform", "translate(" + left + ",0)")
    .call(d3.axisLeft(ys).tickValues(velMajor).tickSize(0).tickPadding(10)
      .tickFormat(function(d){ return d3.format("d")(d).replace("-", "\u2212"); }));
  styleAxis(lab);
});

// x axes: bottom of lower panel, shared boundary (both directions)
ticks(d3.axisBottom, x, degMinor, 5, bot2, false);
ticks(d3.axisBottom, x, degMajor, 10, bot2, false);
var xl = svg.append("g").attr("transform", "translate(0," + bot2 + ")")
  .call(d3.axisBottom(x).tickValues(degMajor).tickSize(0).tickPadding(12).tickFormat(d3.format("")));
styleAxis(xl);
ticks(d3.axisBottom, x, degMinor, 5, mid, false);
ticks(d3.axisBottom, x, degMajor, 10, mid, false);
ticks(d3.axisTop, x, degMinor, 5, mid, false);
ticks(d3.axisTop, x, degMajor, 10, mid, false);

// top axis in kpc
ticks(d3.axisTop, xKpc, kpcMinor, 5, top1, false);
ticks(d3.axisTop, xKpc, kpcMajor, 10, top1, false);
var kl = svg.append("g").attr("transform", "translate(0," + top1 + ")")
  .call(d3.axisTop(xKpc).tickValues(kpcMajor).tickSize(0).tickPadding(11).tickFormat(function(d){ return d + " kpc"; }));
styleAxis(kl);
kl.selectAll("text").style("font-size", "17px").style("letter-spacing", "1px");

// frames
svg.append("rect").attr("x", left).attr("y", top1).attr("width", right - left).attr("height", bot2 - top1)
  .attr("fill", "none").attr("stroke", "#000").attr("stroke-width", 1.6);
svg.append("line").attr("x1", left).attr("x2", right).attr("y1", mid).attr("y2", mid)
  .attr("stroke", "#000").attr("stroke-width", 1.6);

// ---- top panel: RGB stars as crosses ----
var stars = [].concat(starsA0, starsF130, starsMid, starsH11, starsF109);
svg.append("g").selectAll("path")
  .data(stars)
  .enter()
  .append("path")
    .attr("d", function(d){
      var cx = x(d[0]), cy = yTop(d[1]), r = 2.9;
      return "M" + (cx - r) + "," + (cy - r) + "L" + (cx + r) + "," + (cy + r) +
             "M" + (cx - r) + "," + (cy + r) + "L" + (cx + r) + "," + (cy - r);
    })
    .attr("stroke", "#000")
    .attr("stroke-width", 1.45)
    .attr("fill", "none");

// field bars + names
var fg = svg.append("g");
fg.selectAll("line")
  .data(fields)
  .enter()
  .append("line")
    .attr("x1", function(d){ return x(d.d0); })
    .attr("x2", function(d){ return x(d.d1); })
    .attr("y1", function(d){ return yTop(d.v); })
    .attr("y2", function(d){ return yTop(d.v); })
    .attr("stroke", "#000")
    .attr("stroke-width", 1.3);
fg.selectAll("text")
  .data(fields)
  .enter()
  .append("text")
    .attr("x", function(d){ return (x(d.d0) + x(d.d1)) / 2; })
    .attr("y", function(d){ return yTop(d.v) + (d.side == "below" ? 18 : -4); })
    .attr("text-anchor", "middle")
    .style("font-size", "16px")
    .style("letter-spacing", "0.5px")
    .text(function(d){ return d.name; });

// ---- bottom panel: simulation particles ----
function dots(data, color, s) {
  svg.append("g").selectAll("rect")
    .data(data)
    .enter()
    .append("rect")
      .attr("x", function(d){ return x(d[0]) - s / 2; })
      .attr("y", function(d){ return yBot(d[1]) - s / 2; })
      .attr("width", s)
      .attr("height", s)
      .attr("fill", color);
}
dots(simBlack, "#000", 1.8);
dots(simGreen, "#00ee00", 2.6);
dots(simRed, "#ff0000", 3);
dots(simBlue, "#0000ff", 4.5);
dots(simMagenta, "#ff00ff", 3.5);

// ---- titles ----
svg.append("text").attr("x", 125).attr("y", 116)
  .style("font-size", "16px").style("letter-spacing", "1.3px")
  .text("M31 RGB Stars");
svg.append("text").attr("x", 125).attr("y", 448)
  .style("font-size", "16px").style("letter-spacing", "1px")
  .text("Fardal et al. (2007) Simulation");

svg.append("text")
  .attr("transform", "translate(23,414) rotate(-90)")
  .attr("text-anchor", "middle")
  .style("font-size", "22px").style("letter-spacing", "0.7px")
  .text("Velocity (km/s)");

var xt = svg.append("text").attr("x", 438).attr("y", 803).attr("text-anchor", "middle").style("font-size", "22px");
xt.append("tspan").text("R");
xt.append("tspan").attr("dy", 5).style("font-family", "DejaVu Sans, sans-serif").style("font-weight", "bold").style("font-size", "12px").text("proj");
xt.append("tspan").attr("dy", -5).text(" (degrees)");
</script>
</body>
</html>
